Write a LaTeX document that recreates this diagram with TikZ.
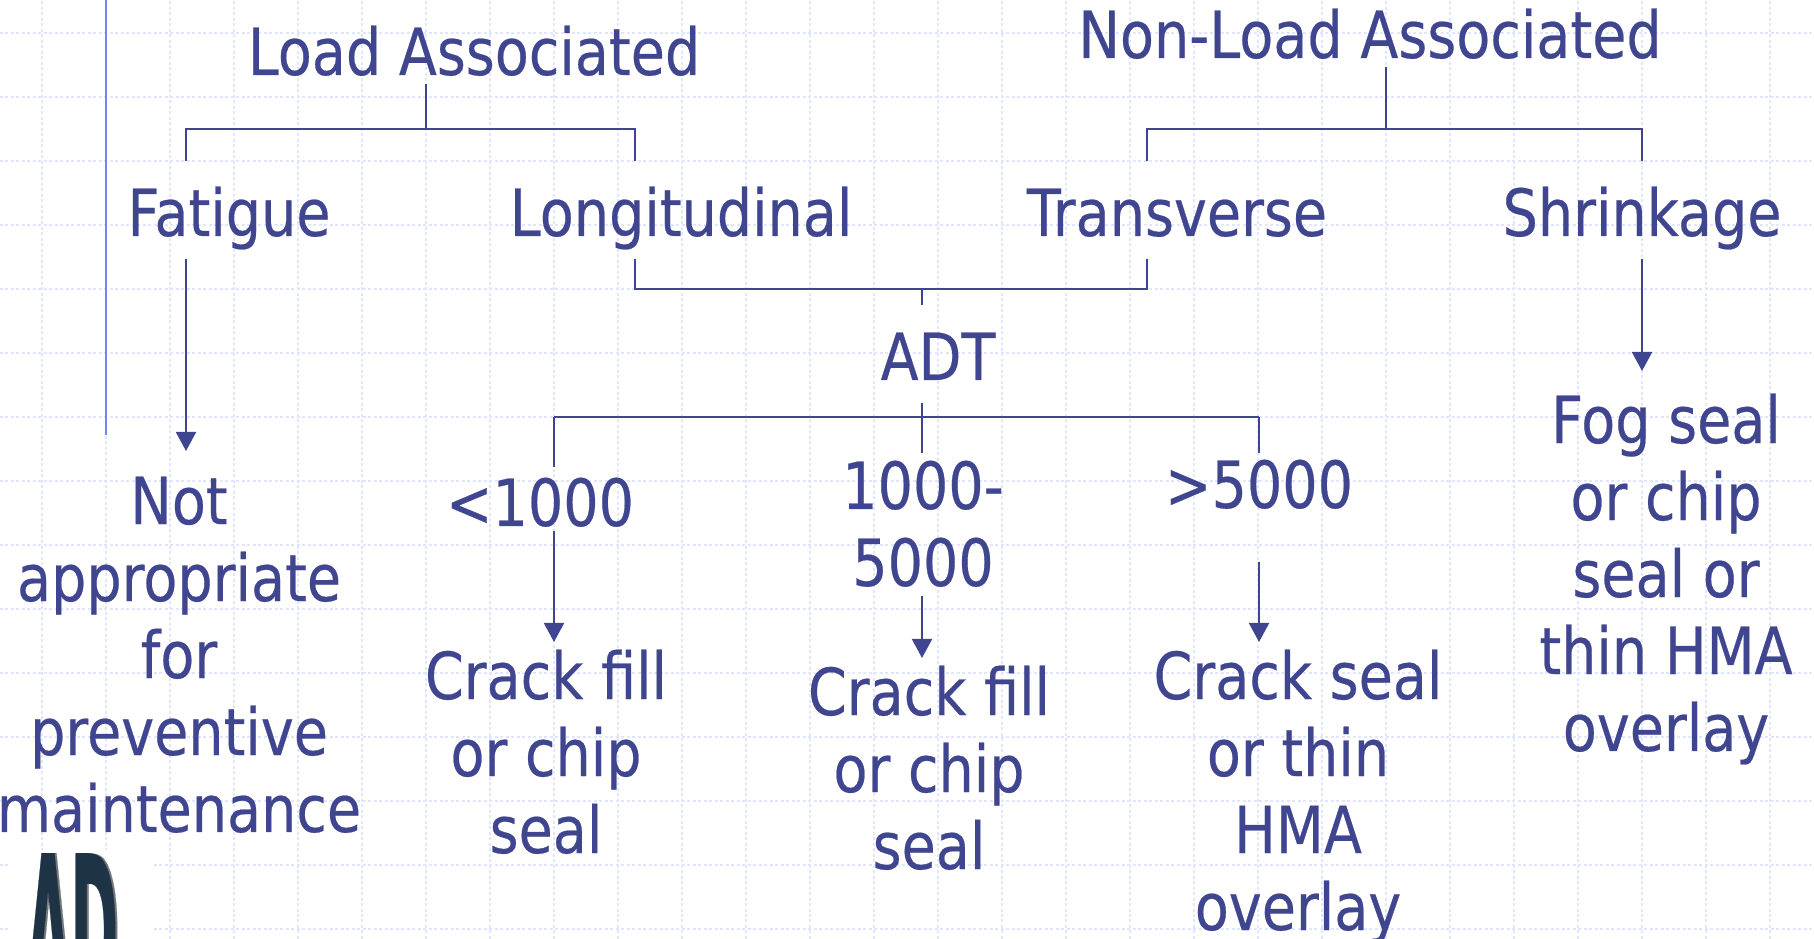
\documentclass[tikz,border=0pt]{standalone}
\usepackage{fontspec}
\setmainfont[FakeStretch=0.855,FakeBold=0.35]{DejaVu Sans}
\usetikzlibrary{arrows.meta}
\definecolor{inkblue}{HTML}{40458F}
\definecolor{gridblue}{HTML}{DFE6FD}
\definecolor{barblue}{HTML}{6F86EF}
\definecolor{logodark}{HTML}{1E3345}
\definecolor{logogrey}{HTML}{77777A}

\begin{document}
\begin{tikzpicture}[
    word/.style={text=inkblue, inner sep=0pt, font=\fontsize{18.5}{21.9}\selectfont},
    headword/.style={word, anchor=base, text height=.5cm, text depth=.08cm},
    midword/.style={word, anchor=base, text height=.74cm, text depth=.22cm},
    stack/.style={word, anchor=north, align=center},
    link/.style={draw=inkblue, line width=.02cm},
    pointer/.style={link, -{Triangle[width=.2cm,length=.19cm]}},
    gridline/.style={gridblue, line width=.02cm, dash pattern=on .03cm off .025cm}]

    \clip (0,0) rectangle (18.14,9.39);
    \fill[white] (0,0) rectangle (18.14,9.39);

    \foreach \gx in {0,...,27}
        \draw[gridline] (.42+.64*\gx,0) -- (.42+.64*\gx,9.39);
    \foreach \gy in {0,...,14}
        \draw[gridline] (0,9.06-.64*\gy) -- (18.14,9.06-.64*\gy);

    \coordinate (bartop) at (1.06,9.39);
    \coordinate (barend) at (1.06,5.04);
    \draw[barblue, line width=.025cm] (bartop) -- (barend);

    % logo
    \fill[white] (.10,0) rectangle (1.52,.89);
    \node[anchor=south west, inner sep=0pt, text=logogrey](logoback) at (.27,-.69) {\scalebox{.48}[1.5]{\fontsize{40}{40}\bfseries AD}};
    \node[anchor=south west, inner sep=0pt, text=logodark](logo) at (.25,-.69) {\scalebox{.48}[1.5]{\fontsize{40}{40}\bfseries AD}};

    \node[headword](load) at (4.74,8.64) {Load Associated};
    \node[headword](nonload) at (13.70,8.81) {Non-Load Associated};

    \node[midword](fatigue) at (2.29,7.03) {Fatigue};
    \node[midword](longit) at (6.81,7.03) {Longitudinal};
    \node[midword](transv) at (11.77,7.03) {Transverse};
    \node[midword](shrink) at (16.42,7.03) {Shrinkage};
    \node[midword](adt) at (9.38,5.59) {ADT};

    \node[stack](notprev) at (1.79,4.63) {Not\\appropriate\\for\\preventive\\maintenance};
    \node[stack](low) at (5.40,4.62) {<1000};
    \node[stack](mid) at (9.23,4.79) {1000-\\5000};
    \node[stack](high) at (12.59,4.80) {>5000};
    \node[stack](fill) at (5.46,2.90) {Crack fill\\or chip\\seal};
    \node[stack](fillb) at (9.29,2.74) {Crack fill\\or chip\\seal};
    \node[stack](seal) at (12.98,2.90) {Crack seal\\or thin\\HMA\\overlay};
    \node[stack](fog) at (16.66,5.46) {Fog seal\\or chip\\seal or\\thin HMA\\overlay};

    \coordinate (loadj) at (4.26,8.10);
    \coordinate (nonloadj) at (13.86,8.10);
    \coordinate (fatj) at (1.86,8.10);
    \coordinate (longj) at (6.35,8.10);
    \coordinate (transj) at (11.47,8.10);
    \coordinate (shrinkj) at (16.42,8.10);
    \coordinate (crossl) at (6.35,6.50);
    \coordinate (crossr) at (11.47,6.50);
    \coordinate (crossm) at (9.22,6.50);
    \coordinate (adtj) at (9.22,5.22);
    \coordinate (lowj) at (5.54,5.22);
    \coordinate (highj) at (12.59,5.22);

    \draw[link] (load.south -| loadj) -- (loadj);
    \draw[link] (nonload.south -| nonloadj) -- (nonloadj);
    \draw[link] (fatigue.north -| fatj) -- (fatj) -- (longj) -- (longit.north -| longj);
    \draw[link] (transv.north -| transj) -- (transj) -- (shrinkj) -- (shrink.north -| shrinkj);

    \draw[link] (longit.south -| crossl) -- (crossl) -- (crossr) -- (transv.south -| crossr);
    \draw[link] (crossm) -- (adt.north -| crossm);

    \draw[link] (lowj) -- (highj);
    \draw[link] (adt.south -| adtj) -- ([yshift=.07cm]mid.north -| adtj);
    \draw[link] (lowj) -- ([yshift=.10cm]low.north -| lowj);
    \draw[link] (highj) -- ([yshift=.06cm]high.north -| highj);

    \draw[pointer] (fatigue.south -| fatj) -- ([yshift=.25cm]notprev.north -| fatj);
    \draw[pointer] ([yshift=-.03cm]low.south -| lowj) -- ([yshift=.07cm]fill.north -| lowj);
    \draw[pointer] ([yshift=-.08cm]mid.south -| adtj) -- ([yshift=.07cm]fillb.north -| adtj);
    \draw[pointer] ([yshift=-.52cm]high.south -| highj) -- ([yshift=.07cm]seal.north -| highj);
    \draw[pointer] (shrink.south) -- ([yshift=.22cm]fog.north -| shrink.south);

\end{tikzpicture}
\end{document}
